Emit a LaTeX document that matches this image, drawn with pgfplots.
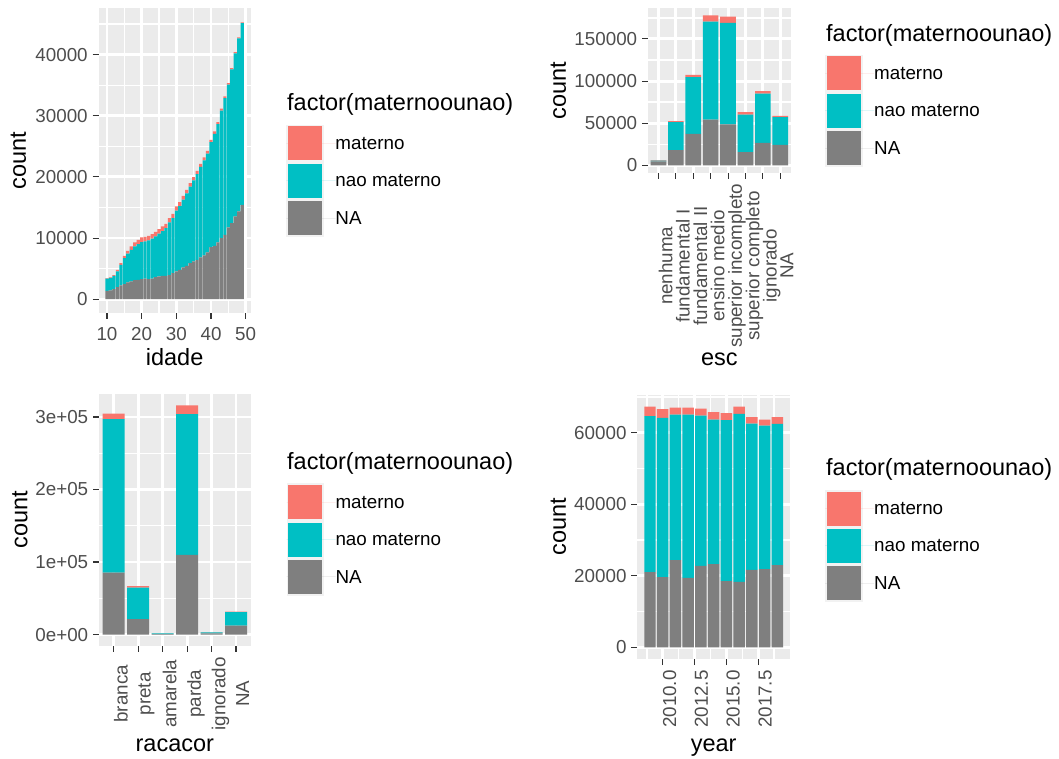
\documentclass[border=0pt]{standalone}
\usepackage{fontspec}
\setmainfont{Liberation Sans}
\usepackage{pgfplots}
\pgfplotsset{compat=1.18}

\definecolor{ggpanel}{HTML}{EBEBEB}
\definecolor{ggtick}{HTML}{333333}
\definecolor{ggtext}{HTML}{4D4D4D}
\definecolor{ggkeybg}{HTML}{F2F2F2}
\definecolor{matc}{HTML}{F8766D}
\definecolor{naoc}{HTML}{00BFC4}
\definecolor{nac}{HTML}{7F7F7F}

\newcommand\ticksize{\fontsize{18.8pt}{22pt}\selectfont}
\newcommand\titlesize{\fontsize{23.5pt}{28pt}\selectfont}
% rotated category label, centred in a box as wide as the longest one
\newcommand\cbox[2]{\makebox[#1][c]{#2}}

\pgfplotsset{
  ggkey/.style={legend image code/.code={%
      \fill[ggkeybg] (0pt,-18.7pt) rectangle (37.4pt,18.7pt);
      \fill[#1] (1.7pt,-17pt) rectangle (35.7pt,17pt);
      \path (0pt,0pt) -- (49pt,0pt);}},
  ggplot/.style={
    scale only axis,
    scaled ticks=false,
    axis background/.style={fill=ggpanel},
    axis line style={draw=none},
    tick align=outside,
    tick pos=left,
    major tick length=5.9pt,
    minor tick length=0pt,
    tick style={color=ggtick, line width=1.07pt},
    grid=both,
    major grid style={color=white, line width=2.9pt},
    minor grid style={color=white, line width=1.45pt},
    tick label style={font=\ticksize, text=ggtext},
    yticklabel style={anchor=east, inner sep=0pt, xshift=-4.7pt},
    label style={font=\titlesize, text=black, inner sep=0pt},
    ybar stacked, bar width=0.9,
    reverse legend,
    legend cell align=left,
    legend style={draw=none, fill=none, inner sep=0pt, outer sep=0pt,
      anchor=north west, font=\ticksize, text=black,
      nodes={inner sep=0pt, text depth=0pt}, row sep=0pt},
  },
  ggrot/.style={xticklabel style={yshift=-4.7pt, rotate=90,
      anchor=north east, inner sep=0pt}},
}

\begin{document}
\begin{tikzpicture}
\path[use as bounding box] (0pt,0pt) rectangle (1059pt,758pt);

% ---- births by age of mother (idade)
\begin{axis}[ggplot,
  at={(98.5pt,445pt)}, anchor=south west,
  width=152.2pt, height=304.5pt,
  xmin=7.55, xmax=51.45, ymin=-2265, ymax=47565,
  xtick={10,20,30,40,50}, xticklabels={10,20,30,40,50},
  minor xtick={15,25,35,45},
  ytick={0,10000,20000,30000,40000},
  yticklabels={0,10000,20000,30000,40000},
  minor ytick={5000,15000,25000,35000,45000},
  xticklabel style={anchor=north, inner sep=0pt, yshift=-8.5pt},
  xlabel={idade}, ylabel={count},
  xlabel style={at={(axis description cs:0.5,-0.174)}, anchor=base},
  ylabel style={at={(axis description cs:-0.527,0.5)}, anchor=center},
  legend style={at={(axis description cs:1.2352,0.6190)}},
]
\addplot[fill=nac, draw=none, ggkey=nac] coordinates {
(10,1360) (11,1420) (12,1640) (13,1960) (14,2240) (15,2460) (16,2730) (17,2890)
(18,3110) (19,3170) (20,3270) (21,3380) (22,3270) (23,3380) (24,3600) (25,3710)
(26,3820) (27,3820) (28,3930) (29,4260) (30,4530) (31,4800) (32,5190) (33,5460)
(34,5900) (35,6170) (36,6440) (37,6820) (38,7150) (39,7640) (40,8510) (41,8730)
(42,9280) (43,9990) (44,10530) (45,11730) (46,12440) (47,13530) (48,14350) (49,15440)};
\addplot[fill=naoc, draw=none, ggkey=naoc] coordinates {
(10,2000) (11,2050) (12,2170) (13,2590) (14,3360) (15,4240) (16,4720) (17,5180)
(18,5520) (19,5840) (20,6080) (21,6070) (22,6350) (23,6510) (24,6670) (25,7000)
(26,7330) (27,7810) (28,8630) (29,9010) (30,9940) (31,10430) (32,11080) (33,11840)
(34,12500) (35,13250) (36,14020) (37,14830) (38,15540) (39,16190) (40,17170) (41,18320)
(42,19350) (43,20870) (44,22350) (45,23380) (46,25180) (47,26710) (48,28340) (49,29710)};
\addplot[fill=matc, draw=none, ggkey=matc] coordinates {
(10,80) (11,80) (12,120) (13,250) (14,300) (15,400) (16,450) (17,550)
(18,650) (19,700) (20,750) (21,750) (22,750) (23,750) (24,750) (25,750)
(26,750) (27,700) (28,700) (29,700) (30,700) (31,650) (32,650) (33,600)
(34,600) (35,550) (36,550) (37,500) (38,500) (39,450) (40,400) (41,400)
(42,350) (43,300) (44,300) (45,250) (46,200) (47,200) (48,150) (49,150)};
\legend{NA,nao materno,materno}
\end{axis}

% ---- births by schooling (esc)
\begin{axis}[ggplot, ggrot,
  at={(648pt,585pt)}, anchor=south west,
  width=142.7pt, height=165pt,
  xmin=0.4, xmax=8.6, ymin=-8890, ymax=186690,
  xtick={1,...,8},
  xticklabels={\cbox{164pt}{nenhuma},\cbox{164pt}{fundamental I},\cbox{164pt}{fundamental II},\cbox{164pt}{ensino medio},\cbox{164pt}{superior incompleto},\cbox{164pt}{superior completo},\cbox{164pt}{ignorado},\cbox{164pt}{NA}},
  ytick={0,50000,100000,150000},
  yticklabels={0,50000,100000,150000},
  minor ytick={25000,75000,125000,175000},
  xlabel={esc}, ylabel={count},
  xlabel style={at={(axis description cs:0.5,-1.1697)}, anchor=base},
  ylabel style={at={(axis description cs:-0.6286,0.5)}, anchor=center},
  legend style={at={(axis description cs:1.2418,0.7164)}},
]
\addplot[fill=nac, draw=none, ggkey=nac] coordinates {
(1,5000) (2,18200) (3,37500) (4,54500) (5,48600) (6,15800) (7,26900) (8,24500)};
\addplot[fill=naoc, draw=none, ggkey=naoc] coordinates {
(1,900) (2,33200) (3,67200) (4,116100) (5,120500) (6,44600) (7,58400) (8,32800)};
\addplot[fill=matc, draw=none, ggkey=matc] coordinates {
(1,400) (2,1100) (3,2700) (4,7200) (5,7500) (6,2800) (7,2800) (8,1600)};
\legend{NA,nao materno,materno}
\end{axis}

% ---- births by race/colour (racacor)
\begin{axis}[ggplot, ggrot,
  at={(99pt,112pt)}, anchor=south west,
  width=151.7pt, height=252pt,
  xmin=0.4, xmax=6.6, ymin=-15795, ymax=331695,
  xtick={1,...,6},
  xticklabels={\cbox{74pt}{branca},\cbox{74pt}{preta},\cbox{74pt}{amarela},\cbox{74pt}{parda},\cbox{74pt}{ignorado},\cbox{74pt}{NA}},
  ytick={0,100000,200000,300000},
  yticklabels={0e+00,1e+05,2e+05,3e+05},
  minor ytick={50000,150000,250000},
  xlabel={racacor}, ylabel={count},
  xlabel style={at={(axis description cs:0.5,-0.4187)}, anchor=base},
  ylabel style={at={(axis description cs:-0.5208,0.5)}, anchor=center},
  legend style={at={(axis description cs:1.2360,0.6449)}},
]
\addplot[fill=nac, draw=none, ggkey=nac] coordinates {
(1,85500) (2,21200) (3,500) (4,109900) (5,1500) (6,12400)};
\addplot[fill=naoc, draw=none, ggkey=naoc] coordinates {
(1,211500) (2,43600) (3,1200) (4,194000) (5,1500) (6,18400)};
\addplot[fill=matc, draw=none, ggkey=matc] coordinates {
(1,7800) (2,1900) (3,100) (4,12000) (5,200) (6,900)};
\legend{NA,nao materno,materno}
\end{axis}

% ---- births by year
\begin{axis}[ggplot, ggrot,
  at={(637.3pt,98.7pt)}, anchor=south west,
  width=152.7pt, height=264.8pt,
  xmin=2008.005, xmax=2019.995, ymin=-3367.5, ymax=70717.5,
  xtick={2010,2012.5,2015,2017.5},
  xticklabels={\cbox{58pt}{2010.0},\cbox{58pt}{2012.5},\cbox{58pt}{2015.0},\cbox{58pt}{2017.5}},
  minor xtick={2008.75,2011.25,2013.75,2016.25,2018.75},
  ytick={0,20000,40000,60000},
  yticklabels={0,20000,40000,60000},
  minor ytick={10000,30000,50000,70000},
  xlabel={year}, ylabel={count},
  xlabel style={at={(axis description cs:0.5,-0.350)}, anchor=base},
  ylabel style={at={(axis description cs:-0.5174,0.5)}, anchor=center},
  legend style={at={(axis description cs:1.2305,0.6401)}},
]
\addplot[fill=nac, draw=none, ggkey=nac] coordinates {
(2009,21020) (2010,19630) (2011,24370) (2012,19440) (2013,22790) (2014,23260)
(2015,18510) (2016,18330) (2017,21670) (2018,21860) (2019,22980)};
\addplot[fill=naoc, draw=none, ggkey=naoc] coordinates {
(2009,43630) (2010,44550) (2011,40740) (2012,45670) (2013,42050) (2014,40460)
(2015,45020) (2016,46970) (2017,40930) (2018,40180) (2019,39530)};
\addplot[fill=matc, draw=none, ggkey=matc] coordinates {
(2009,2700) (2010,2420) (2011,1960) (2012,1960) (2013,1950) (2014,2050)
(2015,1960) (2016,2050) (2017,1770) (2018,1680) (2019,1860)};
\legend{NA,nao materno,materno}
\end{axis}

% legend titles
\node[anchor=base west, font=\titlesize, inner sep=0pt] at (287pt,647pt) {factor(maternoounao)};
\node[anchor=base west, font=\titlesize, inner sep=0pt] at (826pt,716.7pt) {factor(maternoounao)};
\node[anchor=base west, font=\titlesize, inner sep=0pt] at (287pt,288pt) {factor(maternoounao)};
\node[anchor=base west, font=\titlesize, inner sep=0pt] at (826pt,282pt) {factor(maternoounao)};
\end{tikzpicture}
\end{document}
